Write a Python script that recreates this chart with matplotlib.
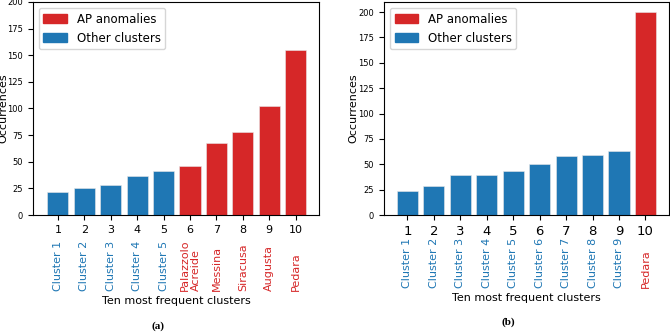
import matplotlib
matplotlib.use("Agg")
import matplotlib.pyplot as plt
import matplotlib.transforms as mtransforms
from matplotlib.patches import Patch

# panel (a)
ranks_a = list(range(1, 11))
counts_a = [22, 25, 28, 37, 41, 46, 68, 78, 102, 155]
names_a = ["Cluster 1", "Cluster 2", "Cluster 3", "Cluster 4", "Cluster 5",
           "Palazzolo\nAcreide", "Messina", "Siracusa", "Augusta", "Pedara"]
is_anomaly_a = [False] * 5 + [True] * 5

# panel (b)
ranks_b = list(range(1, 11))
counts_b = [24, 29, 39, 39, 43, 50, 58, 59, 63, 200]
names_b = ["Cluster 1", "Cluster 2", "Cluster 3", "Cluster 4", "Cluster 5",
           "Cluster 6", "Cluster 7", "Cluster 8", "Cluster 9", "Pedara"]
is_anomaly_b = [False] * 9 + [True]

RED = "#d62728"
BLUE = "#1f77b4"


def draw_panel(fig, ax, ranks, counts, names, anomaly, tick_fs, names_y,
               xlabel_y, ylabel_x):
    colors = [RED if a else BLUE for a in anomaly]
    ax.bar(ranks, counts, width=0.8, color=colors, edgecolor="#e8e8e8", linewidth=0.4)
    ax.set_xticks(ranks)
    ax.set_xticklabels([str(r) for r in ranks], fontsize=tick_fs)
    ax.tick_params(axis="y", labelsize=6)
    ax.set_ylabel("Occurrences", fontsize=8)
    ax.yaxis.set_label_coords(ylabel_x, 0.5)
    # cluster names under the rank numbers
    trans = mtransforms.blended_transform_factory(ax.transData, fig.transFigure)
    for r, n, c in zip(ranks, names, colors):
        ax.text(r, names_y, n, rotation=90, ha="center", va="bottom",
                multialignment="left", color=c, fontsize=8, transform=trans,
                linespacing=1.1)
    ax.set_xlabel("Ten most frequent clusters", fontsize=8)
    ax.xaxis.set_label_coords(0.5, xlabel_y)
    ax.xaxis.label.set_va("center")
    handles = [Patch(color=RED, label="AP anomalies"),
               Patch(color=BLUE, label="Other clusters")]
    ax.legend(handles=handles, loc="upper left", fontsize=8.5)


fig = plt.figure(figsize=(6.7, 3.32), dpi=100)
ax1 = fig.add_axes([0.049, 0.3524, 0.427, 0.6416])
ax2 = fig.add_axes([0.573, 0.3524, 0.4255, 0.6416])

draw_panel(fig, ax1, ranks_a, counts_a, names_a, is_anomaly_a, tick_fs=8,
           names_y=0.1235, xlabel_y=-0.404, ylabel_x=-0.084)
ax1.set_ylim(0, 200)
ax1.set_xlim(0.05, 10.88)

draw_panel(fig, ax2, ranks_b, counts_b, names_b, is_anomaly_b, tick_fs=9.5,
           names_y=0.1325, xlabel_y=-0.39, ylabel_x=-0.091)

fig.text(0.236, 0.018, "(a)", ha="center", va="center", family="Liberation Serif",
         fontweight="bold", fontsize=8)
fig.text(0.758, 0.03, "(b)", ha="center", va="center", family="Liberation Serif",
         fontweight="bold", fontsize=8)

fig.savefig("out.png", dpi=100)
